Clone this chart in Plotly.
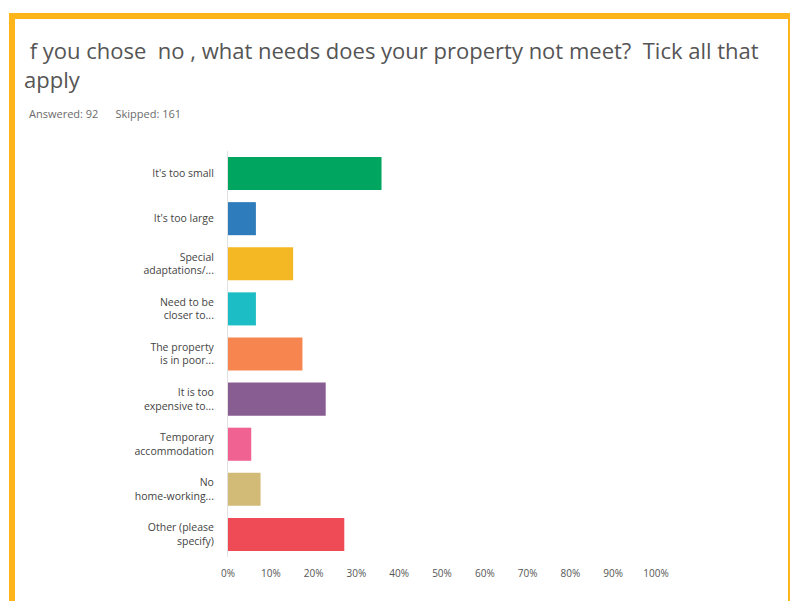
import plotly.graph_objects as go

# survey answers (share of 92 respondents)
categories = [
    "It's too small",
    "It's too large",
    "Special<br>adaptations/...",
    "Need to be<br>closer to...",
    "The property<br>is in poor...",
    "It is too<br>expensive to...",
    "Temporary<br>accommodation",
    "No<br>home-working...",
    "Other (please<br>specify)",
]
percent = [35.87, 6.52, 15.22, 6.52, 17.39, 22.83, 5.43, 7.61, 27.17]
colors = ["#00a65f", "#2e7cbb", "#f4b824", "#1cbdc4", "#f7854f",
          "#885e92", "#ef6291", "#d2bb77", "#ef4b57"]
x_ticks = list(range(0, 101, 10))

# page body has an 8px margin, so screen px = figure px + 8
OFF = 8
W, H = 798, 601
L, R = 228 - OFF, 798 - 656 + OFF
T, B = 151 - OFF, 601 - (557 - OFF)
pw, ph = W - L - R, H - T - B


def px_x(x):
    return (x - OFF - L) / pw


def px_y(y):
    return (H - B - (y - OFF)) / ph


fig = go.Figure(go.Bar(
    x=percent, y=categories, orientation="h",
    marker=dict(color=colors, line=dict(width=0)),
    hoverinfo="skip",
))

fig.update_layout(
    width=W, height=H,
    margin=dict(l=L, r=R, t=T, b=B),
    paper_bgcolor="white", plot_bgcolor="white",
    showlegend=False, bargap=0.267,
    font=dict(family="Open Sans, Arial, sans-serif", color="#444"),
)
fig.update_xaxes(
    range=[0, 100], tickvals=x_ticks, ticktext=[f"{v}%" for v in x_ticks],
    showgrid=False, zeroline=False, showline=False,
    tickfont=dict(size=10, color="#555"), ticks="", ticklabelstandoff=9,
    fixedrange=True,
)
fig.update_yaxes(
    autorange="reversed", showline=True, linecolor="#e2e2e2", linewidth=1,
    showgrid=False, ticks="", ticklabelstandoff=11,
    tickfont=dict(size=10.5, color="#444"),
)

# orange frame
fig.add_shape(type="rect", xref="paper", yref="paper",
              x0=px_x(12), x1=px_x(791), y0=px_y(16), y1=px_y(660),
              line=dict(color="#fdb51b", width=6), fillcolor="rgba(0,0,0,0)")

fig.add_annotation(
    xref="paper", yref="paper", x=px_x(22), y=px_y(64),
    xanchor="left", yanchor="middle", align="left", showarrow=False,
    text=" f you chose  no , what needs does your property not meet?  Tick all that<br>apply",
    font=dict(size=22, color="#555555", family="Open Sans, Arial, sans-serif"),
)
fig.add_annotation(
    xref="paper", yref="paper", x=px_x(27), y=px_y(113),
    xanchor="left", yanchor="middle", showarrow=False,
    text="Answered: 92 &nbsp;&nbsp;&nbsp;&nbsp; Skipped: 161",
    font=dict(size=11, color="#6b6b6b"),
)

fig.write_html("out.html")
